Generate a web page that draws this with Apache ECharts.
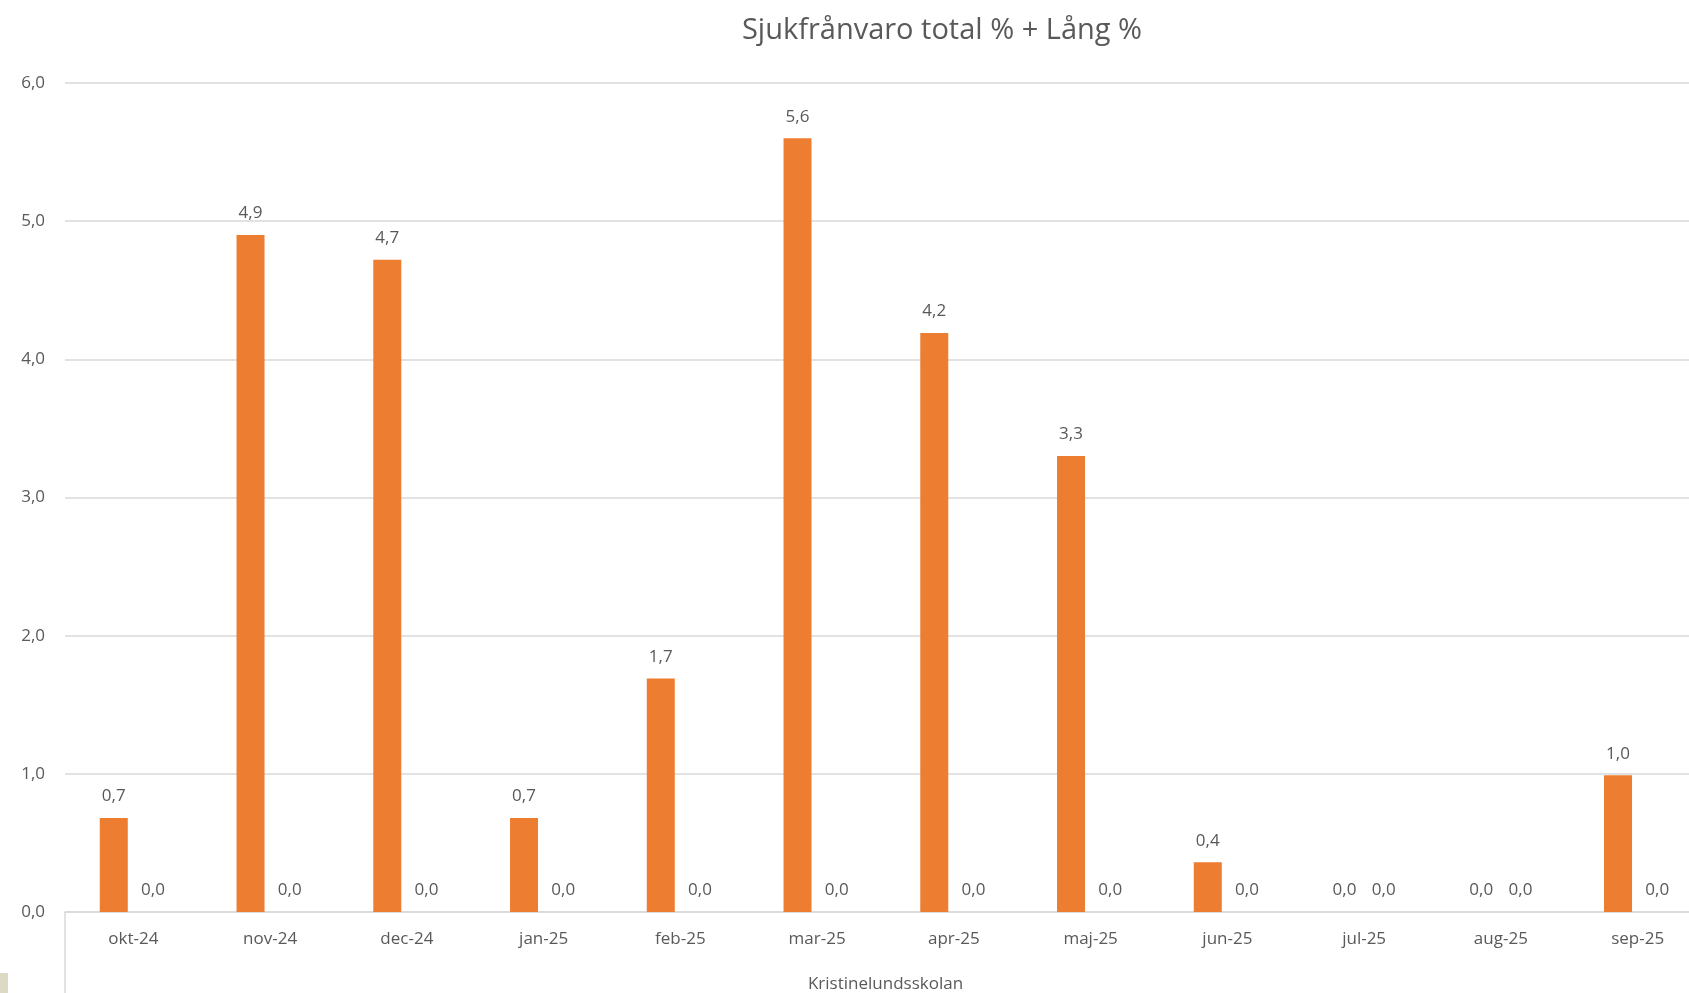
<!DOCTYPE html>
<html>
<head>
<meta charset="utf-8">
<script src="https://cdn.jsdelivr.net/npm/echarts@6/dist/echarts.min.js"></script>
<style>
html,body{margin:0;padding:0;background:#fff;}
#chart{width:1689px;height:993px;}
</style>
</head>
<body>
<div id="chart"></div>
<script>
var titleText = 'Sjukfrånvaro total % + Lång %';
var categories = ['okt-24','nov-24','dec-24','jan-25','feb-25','mar-25','apr-25','maj-25','jun-25','jul-25','aug-25','sep-25'];
var totalValues = [0.68, 4.9, 4.72, 0.68, 1.69, 5.6, 4.19, 3.3, 0.36, 0, 0, 0.99];
var longValues = [0, 0, 0, 0, 0, 0, 0, 0, 0, 0, 0, 0];
var groupName = 'Kristinelundsskolan';
var yTicks = [0, 1, 2, 3, 4, 5, 6];

var fontFam = '"Open Sans", "Noto Sans", sans-serif';
var txt = '#595959';
function fmt(v){ return Number(v).toFixed(1).replace('.', ','); }

var chart = echarts.init(document.getElementById('chart'));
chart.setOption({
  backgroundColor: '#ffffff',
  animation: false,
  title: {
    text: titleText,
    left: 937, top: 11, textAlign: 'center',
    textStyle: { color: txt, fontSize: 29, fontWeight: 'normal', fontFamily: fontFam }
  },
  grid: { left: 65, width: 1641, top: 83, height: 829, containLabel: false, outerBoundsMode: 'none' },
  xAxis: {
    type: 'category',
    data: categories,
    name: groupName,
    nameLocation: 'middle',
    nameGap: 64,
    nameTextStyle: { color: txt, fontSize: 17, fontFamily: fontFam },
    axisLine: { show: true, lineStyle: { color: '#d9d9d9', width: 1.5 } },
    axisTick: { show: false },
    axisLabel: { color: txt, fontSize: 17, fontFamily: fontFam, margin: 19 }
  },
  yAxis: {
    type: 'value',
    min: yTicks[0], max: yTicks[yTicks.length - 1], interval: 1,
    axisLine: { show: false },
    axisTick: { show: false },
    splitLine: { lineStyle: { color: '#d9d9d9', width: 1.5 } },
    axisLabel: { color: txt, fontSize: 17, fontFamily: fontFam, margin: 20, formatter: fmt }
  },
  series: [
    {
      name: 'Sjukfrånvaro total %',
      type: 'bar',
      data: totalValues,
      barWidth: 28,
      barGap: '40%',
      itemStyle: { color: '#ED7D31' },
      label: { show: true, position: 'top', distance: 13, color: txt, fontSize: 17, fontFamily: fontFam, formatter: function(p){ return fmt(p.value); } }
    },
    {
      name: 'Lång %',
      type: 'bar',
      data: longValues,
      barWidth: 28,
      barGap: '40%',
      itemStyle: { color: '#A5A5A5' },
      label: { show: true, position: 'top', distance: 13, color: txt, fontSize: 17, fontFamily: fontFam, formatter: function(p){ return fmt(p.value); } }
    }
  ],
  graphic: [
    { type: 'line', shape: { x1: 65, y1: 912, x2: 65, y2: 993 }, style: { stroke: '#d9d9d9', lineWidth: 1.5 } },
    { type: 'rect', shape: { x: 0, y: 973, width: 8, height: 20 }, style: { fill: '#dcd9c4' } }
  ]
});
</script>
</body>
</html>
